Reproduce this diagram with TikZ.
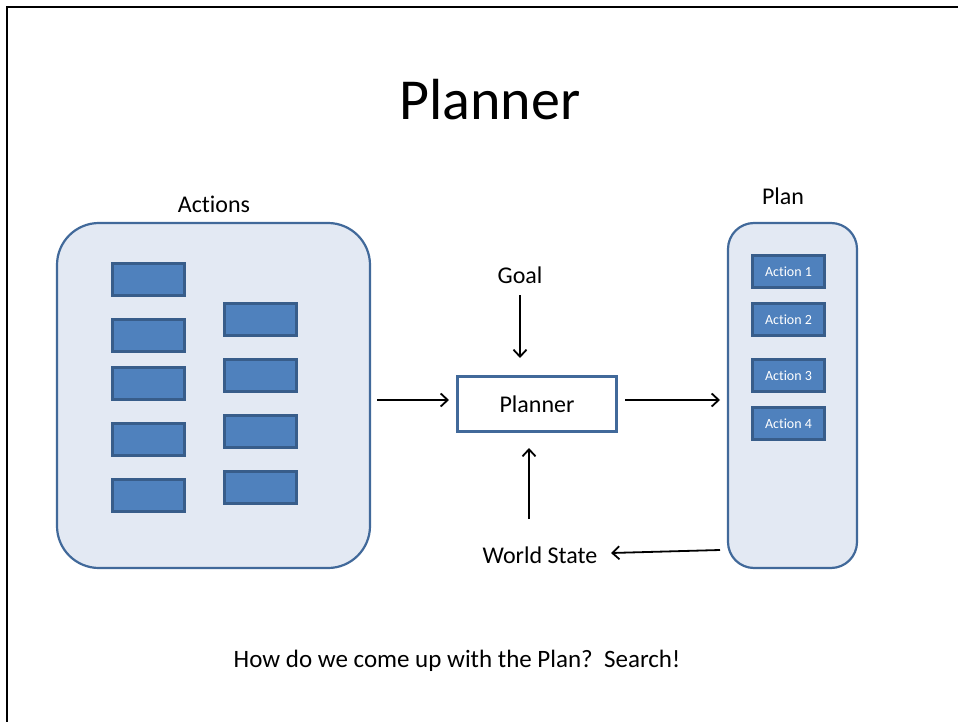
\documentclass[tikz,border=0pt]{standalone}
\usepackage{fontspec}
\setmainfont[Ligatures={NoCommon}]{Carlito}
\usetikzlibrary{arrows.meta}
\definecolor{boxfill}{HTML}{4F81BD}
\definecolor{boxedge}{HTML}{385D8A}
\definecolor{panelfill}{HTML}{E3E9F3}
\definecolor{paneledge}{HTML}{41699A}
\tikzset{
  panel/.style={draw=paneledge, line width=2.2pt, fill=panelfill},
  actbox/.style={draw=boxedge, line width=2.2pt, fill=boxfill, minimum width=72pt, minimum height=32pt, inner sep=0pt, text=white, font=\fontsize{14}{16}\selectfont},
  lbl/.style={font=\fontsize{24}{28}\selectfont, inner sep=0pt},
  conn/.style={line width=1.8pt, -{Straight Barb[length=7pt,width=13pt,line width=1.8pt]}},
}
\begin{document}
\begin{tikzpicture}[x=1pt,y=-1pt]
\useasboundingbox (0,0) rectangle (958,722);
\fill[white] (0,0) rectangle (958,722);
\draw[line width=2pt] (6.5,722) -- (6.5,7.5) -- (958,7.5);
\node[font=\fontsize{58}{64}\selectfont, inner sep=0pt] (title) at (490,100) {Planner};
% Actions panel
\draw[panel, rounded corners=42pt] (57,223) rectangle (370,568);
\node[lbl] (actlbl) at (214,204) {Actions};
\node[actbox] (a1) at (148.5,279.5) {};
\node[actbox] (a2) at (148.5,335.5) {};
\node[actbox] (a3) at (148.5,383.5) {};
\node[actbox] (a4) at (148.5,439.5) {};
\node[actbox] (a5) at (148.5,495.5) {};
\node[actbox] (b1) at (260.5,319.5) {};
\node[actbox] (b2) at (260.5,375.5) {};
\node[actbox] (b3) at (260.5,431.5) {};
\node[actbox] (b4) at (260.5,487.5) {};
% Plan panel
\draw[panel, rounded corners=26pt] (728,223) rectangle (857,568);
\node[lbl] (planlbl) at (783,196) {Plan};
\node[actbox] (p1) at (788.5,271.5) {Action 1};
\node[actbox] (p2) at (788.5,319.5) {Action 2};
\node[actbox] (p3) at (788.5,375.5) {Action 3};
\node[actbox] (p4) at (788.5,423.5) {Action 4};
% Planner
\node[draw=paneledge, line width=2.2pt, fill=white, minimum width=159pt, minimum height=55pt, inner sep=0pt, font=\fontsize{24}{28}\selectfont] (planner) at (537,404) {Planner};
\node[lbl] (goal) at (520,275) {Goal};
\node[lbl] (world) at (540,555) {World State};
\node[font=\fontsize{25}{29}\selectfont, inner sep=0pt] (question) at (457,661) {How do we come up with the Plan?\ \ Search!};
\coordinate (actout) at (377,400);
\coordinate (plannerin) at (449,400);
\coordinate (plannerout) at (625,400);
\coordinate (planin) at (720,400);
\coordinate (goalout) at (520,295);
\coordinate (plannertop) at (520,358);
\coordinate (worldout) at (529,519);
\coordinate (plannerbot) at (529,448);
\coordinate (planout) at (720,550);
\coordinate (worldin) at (611,553);
\draw[conn] (actout) -- (plannerin);
\draw[conn] (plannerout) -- (planin);
\draw[conn] (goalout) -- (plannertop);
\draw[conn] (worldout) -- (plannerbot);
\draw[conn] (planout) -- (worldin);
\end{tikzpicture}
\end{document}
